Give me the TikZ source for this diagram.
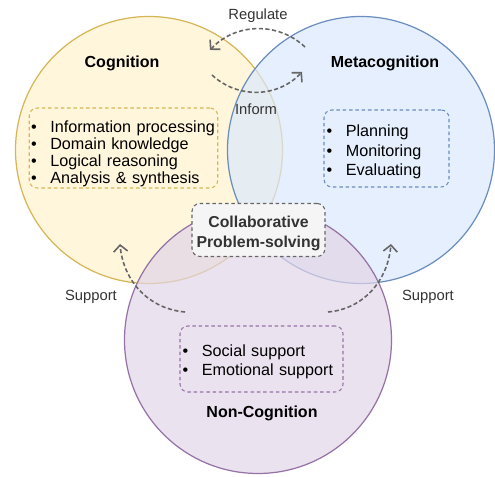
\documentclass[tikz,border=0pt]{standalone}
\usepackage{fontspec}
\setmainfont{Liberation Sans}
\usetikzlibrary{arrows.meta}

\definecolor{cogfill}{HTML}{FFF2CC}
\definecolor{cogline}{HTML}{D6B656}
\definecolor{metafill}{HTML}{DAE8FC}
\definecolor{metaline}{HTML}{6C8EBF}
\definecolor{ncfill}{HTML}{E1D5E7}
\definecolor{ncline}{HTML}{9673A6}
\definecolor{cpsfill}{HTML}{F5F5F5}
\definecolor{arrgray}{HTML}{666666}
\definecolor{lblgray}{HTML}{333333}

\newcommand{\itm}{\makebox[11pt][l]{\textbullet}}
\newcommand{\lift}[1]{\rule{0pt}{#1}}

\tikzset{
  sphere/.style={circle, minimum size=5.34cm, line width=0.7pt, fill opacity=0.7},
  listbox/.style={rounded corners=4.5pt, dash pattern=on 2pt off 1.6pt, line width=0.6pt,
    inner xsep=1pt, inner ysep=0pt, align=left, text=black, font=\fontsize{9.2}{9.7}\selectfont,
    execute at begin node={\hyphenpenalty=10000\relax}},
  flow/.style={draw=arrgray, line width=0.9pt, dash pattern=on 2.4pt off 1.4pt,
    -{Straight Barb[length=1.3mm,width=2.8mm]}},
  lbl/.style={text=lblgray, font=\fontsize{8.4}{10}\selectfont},
  head/.style={text=black, font=\bfseries\fontsize{9.1}{11}\selectfont}
}

\begin{document}
\begin{tikzpicture} % 1px = 0.02cm, origine en bas a gauche
\useasboundingbox (0,0) rectangle (9.9,9.54);

\node[sphere, draw=cogline, fill=cogfill] (cog) at (2.98,6.54) {};
\node[sphere, draw=metaline, fill=metafill] (meta) at (7.22,6.54) {};
\node[sphere, draw=ncline, fill=ncfill] (noncog) at (5.16,2.74) {};

\node[head] (coghead) at (2.44,8.28) {Cognition};
\node[head] (metahead) at (7.70,8.28) {Metacognition};
\node[head] (nchead) at (5.24,1.28) {Non-Cognition};

\node[listbox, draw=cogline, minimum width=3.74cm, minimum height=1.6cm, text width=3.7cm] (coglist) at (2.47,6.58)
  {\lift{13.4pt}\itm Information processing\\ \itm Domain knowledge\\ \itm Logical reasoning\\ \itm Analysis \& synthesis};
\node[listbox, draw=metaline, minimum width=2.5cm, minimum height=1.54cm, text width=2.4cm,
  font=\fontsize{9.2}{11}\selectfont] (metalist) at (7.73,6.57)
  {\lift{10.6pt}\itm Planning\\ \itm Monitoring\\ \itm Evaluating};
\node[listbox, draw=ncline, minimum width=3.26cm, minimum height=1.32cm, text width=3.16cm,
  font=\fontsize{9.2}{10.8}\selectfont] (nclist) at (5.23,2.36)
  {\lift{10pt}\itm Social support\\ \itm Emotional support};

\node[listbox, draw=arrgray, fill=cpsfill, text=lblgray, align=center, text width={},
  minimum width=2.66cm, minimum height=1.06cm, font=\bfseries\fontsize{9}{11.3}\selectfont] (cps) at (5.17,4.94)
  {\lift{10pt}Collaborative\\ Problem-solving};

\node[lbl] (regulate) at (5.16,9.22) {Regulate};
\node[lbl] (inform) at (5.12,7.35) {Inform};
\node[lbl] (suppL) at (1.82,3.60) {Support};
\node[lbl] (suppR) at (8.56,3.60) {Support};

\coordinate (regA) at (6.10,8.60);
\coordinate (regB) at (4.20,8.54);
\coordinate (infA) at (4.24,8.04);
\coordinate (infB) at (6.04,8.10);
\coordinate (supLA) at (3.70,3.30);
\coordinate (supLB) at (2.40,4.66);
\coordinate (supRA) at (6.56,3.30);
\coordinate (supRB) at (7.82,4.66);

\draw[flow] (regA) to[bend right=45] (regB);
\draw[flow] (infA) to[bend right=45] (infB);
\draw[flow] (supLA) to[out=175,in=-85] (supLB);
\draw[flow] (supRA) to[out=5,in=-95] (supRB);
\end{tikzpicture}
\end{document}
